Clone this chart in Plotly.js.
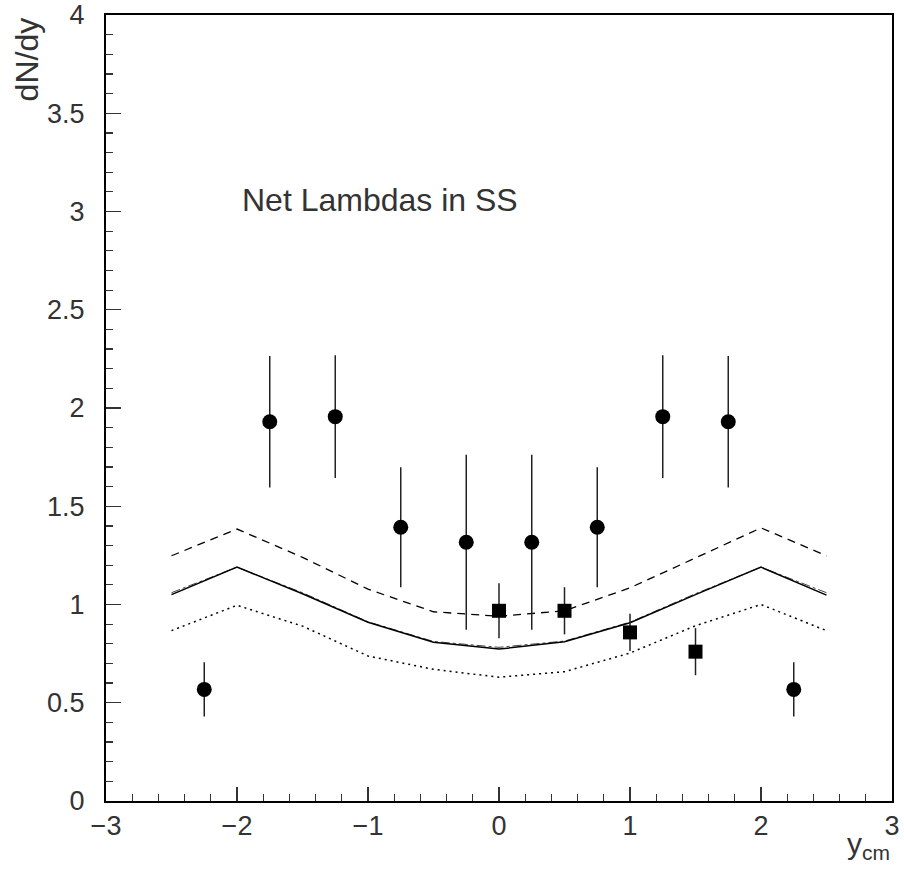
<!DOCTYPE html>
<html>
<head>
<meta charset="utf-8">
<script src="https://cdn.plot.ly/plotly-3.0.1.min.js"></script>
<style>html,body{margin:0;padding:0;background:#fff;}#plot{width:904px;height:873px;}</style>
</head>
<body>
<div id="plot"></div>
<script>
// Data: circles (measured points)
var circleX = [-2.25, -1.75, -1.25, -0.75, -0.25, 0.25, 0.75, 1.25, 1.75, 2.25];
var circleY = [0.568, 1.93, 1.956, 1.393, 1.317, 1.317, 1.393, 1.956, 1.93, 0.568];
var circleErr = [0.138, 0.335, 0.312, 0.305, 0.445, 0.445, 0.305, 0.312, 0.335, 0.138];

// Data: squares
var squareX = [0, 0.5, 1, 1.5];
var squareY = [0.968, 0.968, 0.858, 0.76];
var squareErr = [0.14, 0.12, 0.095, 0.12];

// Model curves
var curveX = [-2.5, -2, -1.5, -1, -0.5, 0, 0.5, 1, 1.5, 2, 2.5];
var solidY = [1.05, 1.19, 1.055, 0.91, 0.808, 0.773, 0.81, 0.907, 1.05, 1.19, 1.048];
var dashDotY = [1.06, 1.19, 1.06, 0.912, 0.812, 0.782, 0.814, 0.91, 1.055, 1.19, 1.06];
var dashedY = [1.248, 1.384, 1.24, 1.078, 0.963, 0.94, 0.968, 1.085, 1.237, 1.39, 1.248];
var dottedY = [0.867, 0.996, 0.89, 0.738, 0.67, 0.63, 0.658, 0.753, 0.892, 1.0, 0.867];

var xTickVals = [-3, -2, -1, 0, 1, 2, 3];
var yTickVals = [0, 0.5, 1, 1.5, 2, 2.5, 3, 3.5, 4];
var yTickText = ['0', '0.5', '1', '1.5', '2', '2.5', '3', '3.5', '4'];

var FONT = '"Liberation Sans", Arial, sans-serif';
var TXT = '#333';

var traces = [
  {x: curveX, y: dashedY, mode: 'lines', line: {color: '#000', width: 1.3, dash: '8px,6px'}, hoverinfo: 'skip'},
  {x: curveX, y: dottedY, mode: 'lines', line: {color: '#000', width: 1.5, dash: '2px,4px'}, hoverinfo: 'skip'},
  {x: curveX, y: dashDotY, mode: 'lines', line: {color: '#444', width: 1, dash: 'dashdot'}, hoverinfo: 'skip'},
  {x: curveX, y: solidY, mode: 'lines', line: {color: '#000', width: 1.5}, hoverinfo: 'skip'},
  {x: circleX, y: circleY, mode: 'markers', marker: {symbol: 'circle', size: 15, color: '#000'},
   error_y: {type: 'data', array: circleErr, visible: true, width: 0, thickness: 1.5, color: '#222'}},
  {x: squareX, y: squareY, mode: 'markers', marker: {symbol: 'square', size: 14, color: '#000'},
   error_y: {type: 'data', array: squareErr, visible: true, width: 0, thickness: 1.5, color: '#222'}}
];

var layout = {
  width: 904, height: 873,
  margin: {l: 106, r: 12, t: 15, b: 72},
  paper_bgcolor: '#fff', plot_bgcolor: '#fff',
  showlegend: false,
  font: {family: FONT, color: TXT},
  xaxis: {
    range: [-3, 3], showgrid: false, zeroline: false,
    showline: true, linecolor: '#000', linewidth: 2, mirror: true,
    ticks: 'inside', ticklen: 14, tickwidth: 1.2, tickcolor: '#333',
    tickvals: xTickVals, tickfont: {family: FONT, size: 27, color: TXT},
    minor: {dtick: 0.2, ticks: 'inside', ticklen: 7, tickwidth: 1.2, tickcolor: '#333', showgrid: false},
    ticklabelstandoff: 0
  },
  yaxis: {
    range: [0, 4], showgrid: false, zeroline: false,
    showline: true, linecolor: '#000', linewidth: 2, mirror: true,
    ticks: 'inside', ticklen: 15, tickwidth: 1.2, tickcolor: '#333',
    tickvals: yTickVals, ticktext: yTickText, tickfont: {family: FONT, size: 27, color: TXT},
    minor: {dtick: 0.1, ticks: 'inside', ticklen: 7, tickwidth: 1.2, tickcolor: '#333', showgrid: false},
    ticklabelstandoff: 14
  },
  annotations: [
    {text: 'Net Lambdas in SS', x: -1.98, y: 3.06, xref: 'x', yref: 'y', xanchor: 'left', yanchor: 'middle',
     showarrow: false, font: {family: FONT, size: 32, color: TXT}},
    {text: 'dN/dy', x: -0.1, y: 1.0, xref: 'paper', yref: 'paper', xanchor: 'center', yanchor: 'top',
     textangle: -90, showarrow: false, font: {family: FONT, size: 32, color: TXT}},
    {text: 'y<sub>cm</sub>', x: 1.0, y: -0.03, xref: 'paper', yref: 'paper', xanchor: 'right', yanchor: 'top',
     showarrow: false, font: {family: FONT, size: 30, color: TXT}}
  ]
};

Plotly.newPlot('plot', traces, layout, {displayModeBar: false, staticPlot: true});
</script>
</body>
</html>
